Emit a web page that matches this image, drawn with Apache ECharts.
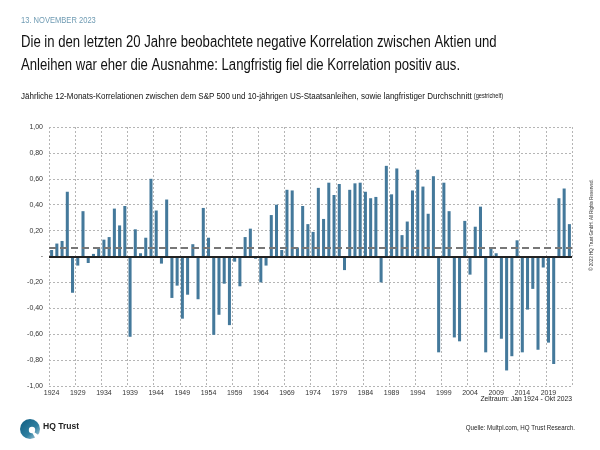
<!DOCTYPE html>
<html>
<head>
<meta charset="utf-8">
<script src="https://cdn.jsdelivr.net/npm/echarts@6/dist/echarts.min.js"></script>
<style>
html,body{margin:0;padding:0;background:#fff;}
#chart{width:600px;height:450px;}
</style>
</head>
<body>
<div id="chart"></div>
<script>
var years = ['1924','1925','1926','1927','1928','1929','1930','1931','1932','1933',
'1934','1935','1936','1937','1938','1939','1940','1941','1942','1943',
'1944','1945','1946','1947','1948','1949','1950','1951','1952','1953',
'1954','1955','1956','1957','1958','1959','1960','1961','1962','1963',
'1964','1965','1966','1967','1968','1969','1970','1971','1972','1973',
'1974','1975','1976','1977','1978','1979','1980','1981','1982','1983',
'1984','1985','1986','1987','1988','1989','1990','1991','1992','1993',
'1994','1995','1996','1997','1998','1999','2000','2001','2002','2003',
'2004','2005','2006','2007','2008','2009','2010','2011','2012','2013',
'2014','2015','2016','2017','2018','2019','2020','2021','2022','2023'];

var correlations = [0.05,0.10,0.12,0.50,-0.28,-0.07,0.35,-0.05,0.02,0.07,
0.13,0.15,0.37,0.24,0.39,-0.62,0.21,0.025,0.145,0.60,
0.355,-0.055,0.44,-0.32,-0.225,-0.48,-0.295,0.095,-0.33,0.375,
0.145,-0.605,-0.45,-0.21,-0.53,-0.04,-0.23,0.15,0.215,-0.017,
-0.20,-0.07,0.32,0.40,0.05,0.515,0.51,0.07,0.39,0.25,
0.19,0.53,0.29,0.57,0.475,0.56,-0.105,0.515,0.565,0.57,
0.50,0.45,0.46,-0.20,0.70,0.48,0.68,0.165,0.27,0.51,
0.67,0.54,0.33,0.62,-0.74,0.57,0.35,-0.625,-0.655,0.275,
-0.14,0.23,0.385,-0.74,0.07,0.025,-0.635,-0.88,-0.77,0.125,
-0.74,-0.41,-0.25,-0.72,-0.085,-0.665,-0.83,0.45,0.525,0.25];

var longTermAverage = 0.07;

var FONT = '"Liberation Sans", Arial, Helvetica, sans-serif';

var chart = echarts.init(document.getElementById('chart'), null, {renderer:'canvas'});

var option = {
  animation: false,
  backgroundColor: '#ffffff',
  textStyle: {fontFamily: FONT},
  grid: {left: 49, right: 28, top: 127, bottom: 64, containLabel: false},
  xAxis: {
    type: 'category',
    data: years,
    boundaryGap: true,
    axisLine: {show: false},
    axisTick: {show: false, interval: 4},
    axisLabel: {interval: 4, fontSize: 7, color: '#333', margin: 4, fontFamily: FONT},
    splitLine: {show: true, interval: 4, lineStyle: {color: '#b5b5b5', width: 1, type: [2, 2]}}
  },
  yAxis: {
    type: 'value',
    min: -1, max: 1, interval: 0.2,
    axisLine: {show: false},
    axisTick: {show: false},
    axisLabel: {
      fontSize: 7, color: '#333', margin: 6, fontFamily: FONT,
      formatter: function (v) {
        if (Math.abs(v) < 1e-9) return '-';
        return v.toFixed(2).replace('.', ',');
      }
    },
    splitLine: {show: true, lineStyle: {color: '#b5b5b5', width: 1, type: [2, 2]}}
  },
  series: [{
    type: 'bar',
    data: correlations,
    barWidth: '58%',
    itemStyle: {color: '#44799b'},
    markLine: {
      silent: true,
      symbol: ['none', 'none'],
      label: {show: false},
      data: [
        {yAxis: 0, lineStyle: {color: '#222', width: 2, type: 'solid'}},
        {yAxis: longTermAverage, lineStyle: {color: '#777', width: 2, type: [7, 4]}}
      ]
    }
  }],
  graphic: [
    {type: 'text', x: 21, y: 16, scaleX: 0.84, style: {text: '13. NOVEMBER 2023', fill: '#6f9bb3', font: '9px ' + FONT}},
    {type: 'text', x: 21, y: 31, scaleX: 0.82, style: {text: 'Die in den letzten 20 Jahre beobachtete negative Korrelation zwischen Aktien und\nAnleihen war eher die Ausnahme: Langfristig fiel die Korrelation positiv aus.', fill: '#111', font: '16px ' + FONT, lineHeight: 23}},
    {type: 'text', x: 21, y: 92, scaleX: 0.86, style: {
      rich: {a: {fontSize: 9.3, fontFamily: FONT, fill: '#111'}, b: {fontSize: 6.5, fontFamily: FONT, fill: '#111'}},
      text: '{a|Jährliche 12-Monats-Korrelationen zwischen dem S&P 500 und 10-jährigen US-Staatsanleihen, sowie langfristiger Durchschnitt }{b|(gestrichelt)}'
    }},
    {type: 'text', x: 572, y: 395, scaleX: 0.9, style: {text: 'Zeitraum: Jan 1924 - Okt 2023', fill: '#222', font: '7.5px ' + FONT, align: 'right'}},
    {type: 'text', x: 575, y: 425, scaleX: 0.95, style: {text: 'Quelle: Multpl.com, HQ Trust Research.', fill: '#222', font: '6.5px ' + FONT, align: 'right'}},
    {type: 'text', x: 43, y: 421, scaleX: 0.9, style: {text: 'HQ Trust', fill: '#222', font: 'bold 9.5px ' + FONT}},
    {type: 'circle', shape: {cx: 30, cy: 429, r: 10}, style: {fill: new echarts.graphic.LinearGradient(0, 0, 1, 1, [{offset: 0, color: '#0e5c80'}, {offset: 0.6, color: '#2f7fa0'}, {offset: 1, color: '#bcd6e2'}])}},
    {type: 'polygon', shape: {points: [[30, 429], [37, 441], [41, 437]]}, style: {fill: '#ffffff'}},
    {type: 'circle', shape: {cx: 32, cy: 430, r: 3.2}, style: {fill: '#ffffff'}},
    {type: 'text', x: 592, y: 225, rotation: Math.PI / 2, style: {text: '© 2023 HQ Trust GmbH. All Rights Reserved.', fill: '#333', font: '4.5px ' + FONT, align: 'center', verticalAlign: 'middle'}}
  ]
};
chart.setOption(option);
</script>
</body>
</html>
